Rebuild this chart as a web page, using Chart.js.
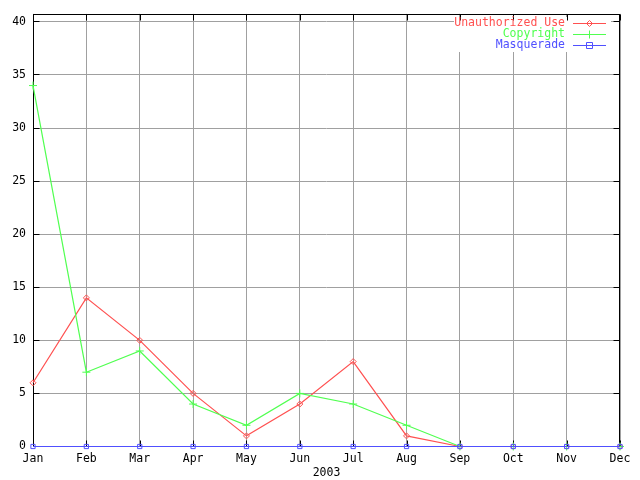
<!DOCTYPE html>
<html>
<head>
<meta charset="utf-8">
<script src="https://cdn.jsdelivr.net/npm/chart.js@4"></script>
<style>
  html, body { margin: 0; padding: 0; background: #fff; }
  canvas { display: block; }
</style>
</head>
<body>
<canvas id="chart" width="640" height="480"></canvas>
<script>
// Dados do gráfico
const months = ['Jan', 'Feb', 'Mar', 'Apr', 'May', 'Jun', 'Jul', 'Aug', 'Sep', 'Oct', 'Nov', 'Dec'];
const unauthorizedUse = [6, 14, 10, 5, 1, 4, 8, 1, 0, 0, 0, 0];
const copyright = [34, 7, 9, 4, 2, 5, 4, 2, 0, 0, 0, 0];
const masquerade = [0, 0, 0, 0, 0, 0, 0, 0, 0, 0, 0, 0];
const yTicks = [0, 5, 10, 15, 20, 25, 30, 35, 40];
const xTitle = '2003';

const FONT = 'DejaVu Sans Mono';
const RED = '#ff5050';
const GREEN = '#50ff50';
const BLUE = '#5050ff';

// Desenhar marcador da legenda
function drawMarker(ctx, style, x, y) {
    ctx.beginPath();
    if (style === 'rectRot') {
        ctx.moveTo(x, y - 3); ctx.lineTo(x + 3, y); ctx.lineTo(x, y + 3); ctx.lineTo(x - 3, y); ctx.closePath();
    } else if (style === 'cross') {
        ctx.moveTo(x - 4, y); ctx.lineTo(x + 4, y);
        ctx.moveTo(x, y - 4); ctx.lineTo(x, y + 4);
    } else {
        ctx.rect(x - 3, y - 3, 6, 6);
    }
    ctx.stroke();
}

// Legenda, moldura e marcas internas no estilo gnuplot
const gnuplotFrame = {
    id: 'gnuplotFrame',
    beforeDatasetsDraw(chart) {
        const ctx = chart.ctx;
        const area = chart.chartArea;
        const xs = chart.scales.x;
        const ys = chart.scales.y;
        const left = Math.round(area.left) + 0.5;
        const right = Math.round(area.right) - 0.5;
        const top = Math.round(area.top) + 0.5;
        const bottom = Math.floor(area.bottom) + 0.5;
        ctx.save();

        // limpar área da legenda
        ctx.fillStyle = '#fff';
        ctx.fillRect(454, 17, 157, 35);

        // moldura
        ctx.strokeStyle = '#000';
        ctx.lineWidth = 1;
        ctx.strokeRect(left, top, right - left, bottom - top);

        // marcas
        ctx.beginPath();
        yTicks.forEach(v => {
            const y = Math.floor(ys.getPixelForValue(v)) + 0.5;
            ctx.moveTo(left, y); ctx.lineTo(left + 6, y);
            ctx.moveTo(right, y); ctx.lineTo(right - 6, y);
        });
        months.forEach((m, i) => {
            const x = Math.round(xs.getPixelForValue(i)) + 0.5;
            ctx.moveTo(x, top); ctx.lineTo(x, top + 6);
            ctx.moveTo(x, bottom); ctx.lineTo(x, bottom - 6);
        });
        ctx.stroke();

        // legenda
        const entries = [
            { label: 'Unauthorized Use', color: RED, style: 'rectRot' },
            { label: 'Copyright', color: GREEN, style: 'cross' },
            { label: 'Masquerade', color: BLUE, style: 'rect' }
        ];
        ctx.font = '11.5px "' + FONT + '"';
        ctx.textAlign = 'right';
        ctx.textBaseline = 'middle';
        entries.forEach((e, i) => {
            const y = 23.5 + i * 11;
            ctx.fillStyle = e.color;
            ctx.fillText(e.label, 565, y);
            ctx.strokeStyle = e.color;
            ctx.lineWidth = 1;
            ctx.beginPath();
            ctx.moveTo(573, y);
            ctx.lineTo(606, y);
            ctx.stroke();
            drawMarker(ctx, e.style, 589.5, y);
        });
        ctx.restore();
    }
};

function makeDataset(label, data, color, style, order) {
    return {
        label: label,
        data: data,
        borderColor: color,
        backgroundColor: color,
        pointBorderColor: color,
        pointBackgroundColor: 'rgba(0,0,0,0)',
        pointStyle: style,
        pointRadius: style === 'cross' ? 4 : 3,
        borderWidth: 1.2,
        pointBorderWidth: 1,
        tension: 0,
        clip: false,
        order: order
    };
}

const ctx = document.getElementById('chart').getContext('2d');
new Chart(ctx, {
    type: 'line',
    data: {
        labels: months,
        datasets: [
            makeDataset('Unauthorized Use', unauthorizedUse, RED, 'rectRot', 3),
            makeDataset('Copyright', copyright, GREEN, 'cross', 2),
            makeDataset('Masquerade', masquerade, BLUE, 'rect', 1)
        ]
    },
    options: {
        responsive: false,
        animation: false,
        layout: { padding: { top: 13, right: 20, left: 0, bottom: 0 } },
        plugins: {
            legend: { display: false },
            tooltip: { enabled: false }
        },
        scales: {
            x: {
                offset: false,
                grid: { color: '#a0a0a0', drawTicks: false },
                border: { display: false },
                ticks: {
                    color: '#000',
                    font: { family: FONT, size: 11.5 },
                    padding: 6,
                    autoSkip: false,
                    maxRotation: 0
                },
                title: {
                    display: true,
                    text: xTitle,
                    color: '#000',
                    font: { family: FONT, size: 11.5 },
                    padding: { top: 0, bottom: 0 }
                },
                afterFit(scale) { scale.height = 33.5; }
            },
            y: {
                min: 0,
                max: 40.75,
                grid: { color: '#a0a0a0', drawTicks: false },
                border: { display: false },
                ticks: {
                    color: '#000',
                    font: { family: FONT, size: 11.5 },
                    padding: 7
                },
                afterBuildTicks(scale) {
                    scale.ticks = yTicks.map(v => ({ value: v }));
                },
                afterFit(scale) { scale.width = 33; }
            }
        }
    },
    plugins: [gnuplotFrame]
});
</script>
</body>
</html>
